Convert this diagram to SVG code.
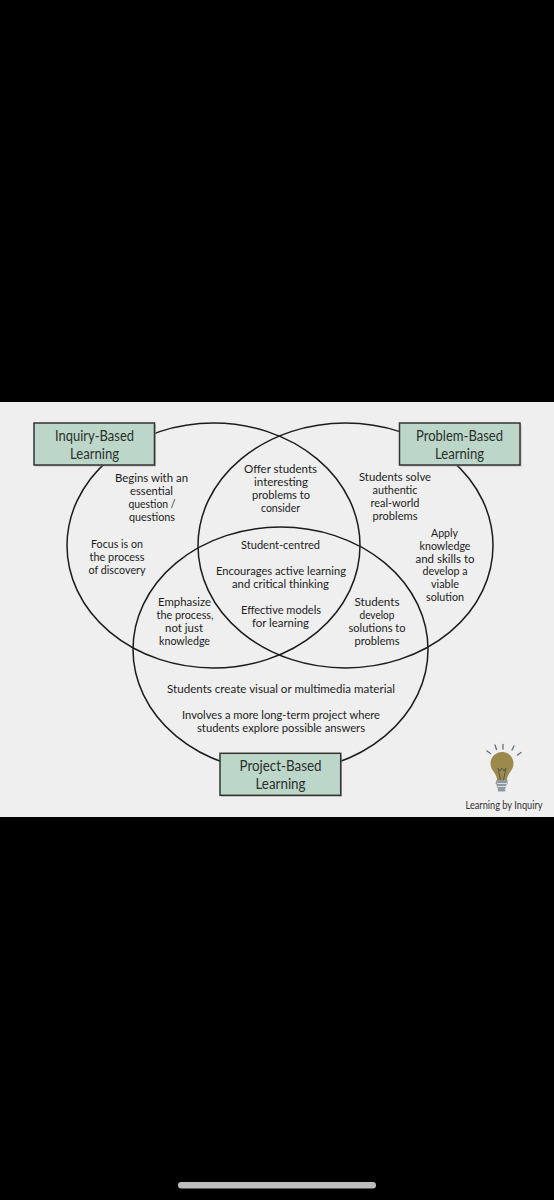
<svg xmlns="http://www.w3.org/2000/svg" width="554" height="1200" viewBox="0 0 554 1200">
<defs>
<style>
text{font-family:"Lato","Noto Sans",sans-serif;fill:#1c1c1c;text-anchor:middle}
.b{font-size:11.8px}
.t{font-size:15.5px;fill:#2a2f2c}
.e{fill:none;stroke:#1c1c1c;stroke-width:1.5}
.box{fill:#bcd7c9;stroke:#333;stroke-width:1.5}
.sh{fill:#9a9a9a;opacity:.6}
.ray{stroke:#5f6e76;stroke-width:1.3;stroke-linecap:round}
</style>
</defs>
<rect width="554" height="1200" fill="#000"/>
<rect y="402" width="554" height="415" fill="#efefef"/>
<rect x="178" y="1182" width="198" height="6.5" rx="3.2" fill="#bdbdbd"/>
<g id="connectors">
<ellipse class="e" cx="213.500" cy="545.500" rx="146.500" ry="122.500"/>
<ellipse class="e" cx="345.500" cy="545.500" rx="147.500" ry="122.500"/>
<ellipse class="e" cx="280.500" cy="649.500" rx="147.500" ry="122.500"/>
</g>
<g id="node-inquiry">
<rect class="sh" x="35" y="424.500" width="121" height="42"/>
<rect class="box" x="34" y="423" width="120.500" height="42"/>
<text class="t" x="94.500" y="441" textLength="79" lengthAdjust="spacingAndGlyphs">Inquiry-Based</text>
<text class="t" x="94.500" y="459" textLength="49" lengthAdjust="spacingAndGlyphs">Learning</text>
</g>
<g id="node-problem">
<rect class="sh" x="400.500" y="424.500" width="121" height="42"/>
<rect class="box" x="399.500" y="423" width="120.500" height="42"/>
<text class="t" x="459.500" y="441" textLength="87" lengthAdjust="spacingAndGlyphs">Problem-Based</text>
<text class="t" x="459.500" y="459" textLength="49" lengthAdjust="spacingAndGlyphs">Learning</text>
</g>
<g id="node-project">
<rect class="sh" x="221" y="754.800" width="121" height="42"/>
<rect class="box" x="220" y="753.300" width="120.700" height="42"/>
<text class="t" x="280.500" y="771" textLength="82" lengthAdjust="spacingAndGlyphs">Project-Based</text>
<text class="t" x="280.500" y="789" textLength="50" lengthAdjust="spacingAndGlyphs">Learning</text>
</g>
<g id="region-inquiry" class="b">
<text x="151.500" y="482" textLength="73" lengthAdjust="spacingAndGlyphs">Begins with an</text>
<text x="151.500" y="495" textLength="43" lengthAdjust="spacingAndGlyphs">essential</text>
<text x="152" y="508" textLength="47" lengthAdjust="spacingAndGlyphs">question /</text>
<text x="152" y="521" textLength="46" lengthAdjust="spacingAndGlyphs">questions</text>
<text x="117" y="548" textLength="52" lengthAdjust="spacingAndGlyphs">Focus is on</text>
<text x="117" y="561" textLength="55" lengthAdjust="spacingAndGlyphs">the process</text>
<text x="117" y="574" textLength="57" lengthAdjust="spacingAndGlyphs">of discovery</text>
</g>
<g id="region-inquiry-problem" class="b">
<text x="280.500" y="473" textLength="73" lengthAdjust="spacingAndGlyphs">Offer students</text>
<text x="281" y="486" textLength="54" lengthAdjust="spacingAndGlyphs">interesting</text>
<text x="281" y="499" textLength="58" lengthAdjust="spacingAndGlyphs">problems to</text>
<text x="280.500" y="512" textLength="39" lengthAdjust="spacingAndGlyphs">consider</text>
</g>
<g id="region-problem" class="b">
<text x="395" y="481" textLength="72" lengthAdjust="spacingAndGlyphs">Students solve</text>
<text x="395" y="494" textLength="45" lengthAdjust="spacingAndGlyphs">authentic</text>
<text x="395" y="507" textLength="49" lengthAdjust="spacingAndGlyphs">real-world</text>
<text x="395" y="520" textLength="45" lengthAdjust="spacingAndGlyphs">problems</text>
<text x="444.500" y="537" textLength="27" lengthAdjust="spacingAndGlyphs">Apply</text>
<text x="445" y="549.800" textLength="51" lengthAdjust="spacingAndGlyphs">knowledge</text>
<text x="445" y="562.600" textLength="59" lengthAdjust="spacingAndGlyphs">and skills to</text>
<text x="445" y="575.400" textLength="45" lengthAdjust="spacingAndGlyphs">develop a</text>
<text x="445" y="588.200" textLength="28" lengthAdjust="spacingAndGlyphs">viable</text>
<text x="445" y="601" textLength="38" lengthAdjust="spacingAndGlyphs">solution</text>
</g>
<g id="region-centre" class="b">
<text x="280.500" y="549" textLength="79" lengthAdjust="spacingAndGlyphs">Student-centred</text>
<text x="281" y="575" textLength="130" lengthAdjust="spacingAndGlyphs">Encourages active learning</text>
<text x="280.500" y="588" textLength="97" lengthAdjust="spacingAndGlyphs">and critical thinking</text>
<text x="281" y="614" textLength="80" lengthAdjust="spacingAndGlyphs">Effective models</text>
<text x="280.500" y="627" textLength="57" lengthAdjust="spacingAndGlyphs">for learning</text>
</g>
<g id="region-inquiry-project" class="b">
<text x="184.500" y="606" textLength="53" lengthAdjust="spacingAndGlyphs">Emphasize</text>
<text x="185" y="619" textLength="57" lengthAdjust="spacingAndGlyphs">the process,</text>
<text x="184" y="632" textLength="38" lengthAdjust="spacingAndGlyphs">not just</text>
<text x="184.500" y="645" textLength="51" lengthAdjust="spacingAndGlyphs">knowledge</text>
</g>
<g id="region-problem-project" class="b">
<text x="377" y="606" textLength="45" lengthAdjust="spacingAndGlyphs">Students</text>
<text x="377" y="619" textLength="35" lengthAdjust="spacingAndGlyphs">develop</text>
<text x="377" y="632" textLength="57" lengthAdjust="spacingAndGlyphs">solutions to</text>
<text x="377" y="645" textLength="45" lengthAdjust="spacingAndGlyphs">problems</text>
</g>
<g id="region-project" class="b">
<text x="281" y="693" textLength="228" lengthAdjust="spacingAndGlyphs">Students create visual or multimedia material</text>
<text x="281" y="719" textLength="198" lengthAdjust="spacingAndGlyphs">Involves a more long-term project where</text>
<text x="281" y="732" textLength="168" lengthAdjust="spacingAndGlyphs">students explore possible answers</text>
</g>
<g id="logo">
<path d="M502 752c6.300 0 11.500 5 11.500 11.500 0 4-1.800 6.500-3.700 9-1.600 2.200-2.600 4.500-2.800 7.500h-10c-.2-3-1.200-5.300-2.800-7.500-1.900-2.500-3.700-5-3.700-9 0-6.500 5.200-11.500 11.500-11.500z" fill="#9b8a4c"/>
<path d="M498 768l2.500 12M506 768l-2.500 12M498 768l2 3 2-3 2 3 2-3" fill="none" stroke="#5a5a48" stroke-width="1"/>
<path d="M496.500 780h11v4l-1.300 1v2l-1 1v3.500h-7.400v-3.500l-1-1v-2l-1.300-1z" fill="#8f9aa2"/>
<path d="M497 783.500h10M497.500 786.500h9" stroke="#d6dadd" stroke-width="1"/>
<path class="ray" d="M487 751l3.500 2.500M495 745l1.500 4.500M503 744.500v4.500M514 746l-2 4M521 752.500l-3.500 2.500"/>
<text x="504" y="809" font-size="10.500" style="fill:#333" textLength="77" lengthAdjust="spacingAndGlyphs">Learning by Inquiry</text>
</g>
</svg>
